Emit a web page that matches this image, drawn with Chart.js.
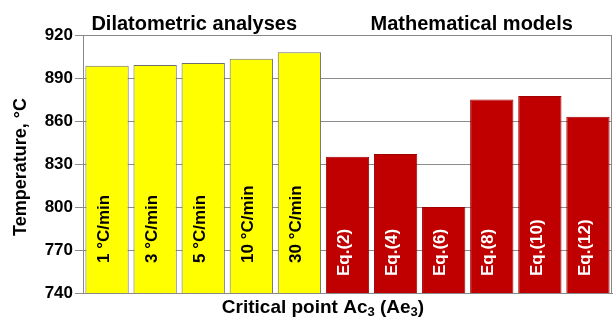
<!DOCTYPE html>
<html>
<head>
<meta charset="utf-8">
<script src="https://cdn.jsdelivr.net/npm/chart.js@4"></script>
<style>
html,body{margin:0;padding:0;background:#fff;}
#wrap{width:614px;height:319px;position:relative;}
</style>
</head>
<body>
<div id="wrap"><canvas id="c" width="614" height="319"></canvas></div>
<script>
// ---- data ----
const categories = ["1 °C/min","3 °C/min","5 °C/min","10 °C/min","30 °C/min","Eq.(2)","Eq.(4)","Eq.(6)","Eq.(8)","Eq.(10)","Eq.(12)"];
const groups = ["dil","dil","dil","dil","dil","math","math","math","math","math","math"];
const temperatures = [898.5, 899, 900.5, 903.5, 908, 835, 837, 800, 875, 877.5, 863];
const groupTitles = {dil: "Dilatometric analyses", math: "Mathematical models"};
const yTicks = [740, 770, 800, 830, 860, 890, 920];
const yTitle = "Temperature, °C";

const FONT = "'Liberation Sans', Arial, Helvetica, sans-serif";
const fills = {dil: "#ffff00", math: "#c00000"};
const borders = {dil: "#6e6e6e", math: "#a00000"};
const labelColors = {dil: "#000000", math: "#ffffff"};
const labelOffsets = {dil: 30, math: 17};

const annot = {
  id: "annot",
  afterDatasetsDraw(chart) {
    const ctx = chart.ctx;
    const meta = chart.getDatasetMeta(0);
    const area = chart.chartArea;
    ctx.save();
    ctx.font = "bold 17px " + FONT;
    meta.data.forEach((bar, i) => {
      const g = groups[i];
      ctx.save();
      ctx.translate(bar.x - 3, area.bottom - labelOffsets[g]);
      ctx.rotate(-Math.PI / 2);
      ctx.textAlign = "left";
      ctx.textBaseline = "middle";
      ctx.fillStyle = labelColors[g];
      ctx.fillText(categories[i], 0, 0);
      ctx.restore();
    });
    ctx.strokeStyle = "#888";
    ctx.lineWidth = 1;
    ctx.strokeRect(Math.round(area.left) + 0.5, Math.round(area.top) + 0.5,
                   Math.round(area.right - area.left) - 1, Math.round(area.bottom - area.top));
    ctx.restore();
  },
  afterDraw(chart) {
    const ctx = chart.ctx;
    const xs = chart.scales.x;
    const area = chart.chartArea;
    ctx.save();
    ctx.fillStyle = "#000";
    ctx.font = "bold 20px " + FONT;
    ctx.textAlign = "center";
    ctx.textBaseline = "alphabetic";
    const idxDil = groups.map((g,i)=>g==="dil"?i:-1).filter(i=>i>=0);
    const idxMath = groups.map((g,i)=>g==="math"?i:-1).filter(i=>i>=0);
    const cDil = (xs.getPixelForValue(idxDil[0]) + xs.getPixelForValue(idxDil[idxDil.length-1])) / 2 - 9;
    const cMath = (xs.getPixelForValue(idxMath[0]) + xs.getPixelForValue(idxMath[idxMath.length-1])) / 2 + 4;
    ctx.fillText(groupTitles.dil, cDil, area.top - 5);
    ctx.fillText(groupTitles.math, cMath, area.top - 5);
    const parts = [
      {t: "Critical point Ac", sub: false},
      {t: "3", sub: true},
      {t: " (Ae", sub: false},
      {t: "3", sub: true},
      {t: ")", sub: false}
    ];
    const big = "bold 19px " + FONT, small = "bold 13px " + FONT;
    let w = 0;
    parts.forEach(p => { ctx.font = p.sub ? small : big; p.w = ctx.measureText(p.t).width; w += p.w; });
    let x = 323 - w / 2;
    const base = area.bottom + 20;
    ctx.textAlign = "left";
    parts.forEach(p => {
      ctx.font = p.sub ? small : big;
      ctx.fillText(p.t, x, p.sub ? base + 3 : base);
      x += p.w;
    });
    ctx.save();
    ctx.translate(21, (area.top + area.bottom) / 2 + 3);
    ctx.rotate(-Math.PI / 2);
    ctx.font = "bold 18px " + FONT;
    ctx.textAlign = "center";
    ctx.textBaseline = "middle";
    ctx.fillText(yTitle, 0, 0);
    ctx.restore();
    ctx.restore();
  }
};

new Chart(document.getElementById("c"), {
  type: "bar",
  data: {
    labels: categories,
    datasets: [{
      data: temperatures,
      backgroundColor: groups.map(g => fills[g]),
      borderColor: groups.map(g => borders[g]),
      borderWidth: 1,
      barPercentage: 0.9,
      categoryPercentage: 1.0
    }]
  },
  options: {
    responsive: false,
    animation: false,
    devicePixelRatio: 1,
    layout: {padding: {top: 35, right: 2, bottom: 26, left: 0}},
    plugins: {legend: {display: false}, tooltip: {enabled: false}, title: {display: false}},
    scales: {
      x: {
        ticks: {display: false},
        grid: {display: false},
        border: {display: true, color: "#888"},
        afterFit(s) { s.height = 0; }
      },
      y: {
        min: yTicks[0],
        max: yTicks[yTicks.length - 1],
        afterBuildTicks(s) { s.ticks = yTicks.map(v => ({value: v})); },
        ticks: {
          color: "#000",
          font: {family: FONT, size: 17, weight: "bold"},
          padding: 2
        },
        grid: {color: "#8c8c8c", lineWidth: 1, tickLength: 8},
        border: {display: true, color: "#888"},
        afterFit(s) { s.width = 83; }
      }
    }
  },
  plugins: [annot]
});
</script>
</body>
</html>
